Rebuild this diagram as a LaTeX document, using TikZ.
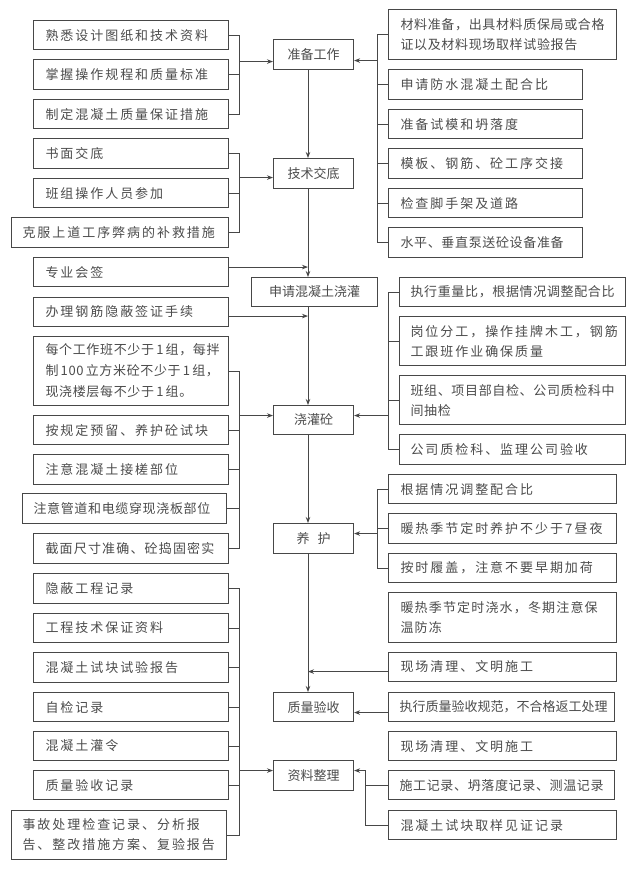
\documentclass[tikz,border=0pt]{standalone}
\usepackage{fontspec}
\usetikzlibrary{arrows.meta,calc}
\newfontfamily\cjkN[LetterSpace=15]{Noto Sans CJK SC}
\newfontfamily\cjkM[LetterSpace=9]{Noto Sans CJK SC}
\newfontfamily\cjkT[LetterSpace=5]{Noto Sans CJK SC}
\newfontfamily\cjkZ{Noto Sans CJK SC}
\newcommand\fsz{\fontsize{13}{20}\selectfont}
\tikzset{
  bx/.style={draw=black!72, line width=1.1pt, fill=white, inner xsep=12pt, inner ysep=1pt,
    align=left, text=black!70, font=\cjkN\fsz},
  ln/.style={draw=black!72, line width=1pt},
  arr/.style={ln, -{Stealth[length=6pt,width=4.5pt]}},
}
\newcommand\BX[7][]{%
  \pgfmathsetmacro\bw{#5-#3-24}\pgfmathsetmacro\bh{#6-#4}%
  \node[bx,#1,anchor=north west,text width=\bw pt,minimum height=\bh pt] (#2) at (#3,#4) {#7};}
\begin{document}
\begin{tikzpicture}[x=1pt,y=-1pt]
\useasboundingbox (0,0) rectangle (640,879);
\fill[white] (0,0) rectangle (640,879);
% left column
\BX{L1}{33}{20}{228}{49}{熟悉设计图纸和技术资料}
\BX{L2}{33}{59}{228}{89}{掌握操作规程和质量标准}
\BX{L3}{33}{99}{228}{128}{制定混凝土质量保证措施}
\BX{L4}{33}{138}{228}{168}{书面交底}
\BX{L5}{33}{178}{228}{207}{班组操作人员参加}
\BX[inner xsep=11pt]{L6}{11}{217}{230}{247}{克服上道工序弊病的补救措施}
\BX{L7}{33}{257}{228}{286}{专业会签}
\BX{L8}{33}{297}{228}{326}{办理钢筋隐蔽签证手续}
\BX[font=\cjkT\fontsize{13}{21}\selectfont]{L9}{33}{336}{228}{405}{每个工作班不少于\,1\,组，每拌\\制\,100\,立方米砼不少于\,1\,组，\\现浇楼层每不少于\,1\,组。}
\BX{L10}{33}{415}{228}{444}{按规定预留、养护砼试块}
\BX{L11}{33}{454}{228}{484}{注意混凝土接槎部位}
\BX[font=\cjkT\fsz,inner xsep=11pt]{L12}{22}{493}{228}{523}{注意管道和电缆穿现浇板部位}
\BX[font=\cjkM\fsz]{L13}{33}{533}{228}{563}{截面尺寸准确、砼捣固密实}
\BX{L14}{33}{573}{228}{603}{隐蔽工程记录}
\BX{L15}{33}{613}{228}{642}{工程技术保证资料}
\BX{L16}{33}{652}{228}{682}{混凝土试块试验报告}
\BX{L17}{33}{692}{228}{721}{自检记录}
\BX{L18}{33}{731}{228}{760}{混凝土灌令}
\BX{L19}{33}{770}{228}{799}{质量验收记录}
\BX[inner xsep=11pt]{L20}{11}{810}{228}{859}{事故处理检查记录、分析报\\告、整改措施方案、复验报告}
% centre column
\BX[align=center,font=\cjkZ\fsz]{C1}{273}{39}{353}{69}{准备工作}
\BX[align=center,font=\cjkZ\fsz]{C2}{273}{158}{353}{188}{技术交底}
\BX[align=center,font=\cjkZ\fsz]{C3}{251}{277}{377}{306}{申请混凝土浇灌}
\BX[align=center,font=\cjkZ\fsz]{C4}{273}{405}{353}{434}{浇灌砼}
\BX[align=center,font=\cjkZ\fsz]{C5}{273}{523}{353}{553}{养\hspace{8pt}护}
\BX[align=center,font=\cjkZ\fsz]{C6}{273}{692}{353}{721}{质量验收}
\BX[align=center,font=\cjkZ\fsz]{C7}{273}{760}{353}{790}{资料整理}
% right column
\BX[font=\cjkT\fsz]{R1}{388}{9}{616}{59}{材料准备，出具材料质保局或合格\\证以及材料现场取样试验报告}
\BX{R2}{388}{69}{582}{99}{申请防水混凝土配合比}
\BX{R3}{388}{109}{582}{138}{准备试模和坍落度}
\BX{R4}{388}{148}{582}{178}{模板、钢筋、砼工序交接}
\BX{R5}{388}{188}{582}{217}{检查脚手架及道路}
\BX[font=\cjkT\fsz]{R6}{388}{227}{582}{257}{水平、垂直泵送砼设备准备}
\BX[font=\cjkT\fsz,inner xsep=11pt]{R7}{399}{277}{627}{306}{执行重量比，根据情况调整配合比}
\BX[inner xsep=11pt]{R8}{399}{316}{627}{365}{岗位分工，操作挂牌木工，钢筋\\工跟班作业确保质量}
\BX[font=\cjkT\fsz,inner xsep=11pt]{R9}{399}{375}{627}{424}{班组、项目部自检、公司质检科中\\间抽检}
\BX[inner xsep=11pt]{R10}{399}{434}{627}{464}{公司质检科、监理公司验收}
\BX{R11}{388}{474}{616}{503}{根据情况调整配合比}
\BX{R12}{388}{513}{616}{543}{暖热季节定时养护不少于\,7\,昼夜}
\BX{R13}{388}{553}{616}{582}{按时履盖，注意不要早期加荷}
\BX[font=\cjkM\fsz]{R14}{388}{592}{616}{642}{暖热季节定时浇水，冬期注意保\\温防冻}
\BX{R15}{388}{652}{616}{681}{现场清理、文明施工}
\BX[font=\cjkZ\fsz,inner xsep=11pt]{R16}{388}{692}{616}{721}{执行质量验收规范，不合格返工处理}
\BX{R17}{388}{731}{616}{760}{现场清理、文明施工}
\BX[font=\cjkT\fsz,inner xsep=11pt]{R18}{388}{770}{616}{799}{施工记录、坍落度记录、测温记录}
\BX{R19}{388}{810}{616}{839}{混凝土试块取样见证记录}
% helper x positions
\coordinate (xL) at (239,0);
\coordinate (xR) at (377,0);
\coordinate (xR2) at (388,0);
\coordinate (xR3) at (365,0);
\coordinate (xM) at (308,0);
% 准备工作
\draw[ln] (L1.east) -| (xL |- L3.east) -- (L3.east);
\draw[ln] (L2.east) -- (xL |- L2.east);
\coordinate (a1) at ($(C1.west)+(0,7)$);
\draw[arr] (xL |- a1) -- (a1);
\draw[ln] (R1.west) -| (xR |- R6.west) -- (R6.west);
\foreach \r in {R2,R3,R4,R5} \draw[ln] (\r.west) -- (xR |- \r.west);
\coordinate (a2) at ($(C1.east)+(0,6)$);
\draw[arr] (xR |- a2) -- (a2);
% 技术交底
\draw[arr] (xM |- C1.south) -- (xM |- C2.north);
\draw[ln] (L4.east) -| (xL |- L6.east) -- (L6.east);
\draw[ln] (L5.east) -- (xL |- L5.east);
\coordinate (a3) at ($(C2.west)+(0,4)$);
\draw[arr] (xL |- a3) -- (a3);
% 申请混凝土浇灌
\draw[arr] (xM |- C2.south) -- (xM |- C3.north);
\coordinate (a4) at ($(L7.east)+(0,-5)$);
\draw[arr] (a4) -- (xM |- a4);
\coordinate (a5) at ($(L8.east)+(0,4)$);
\draw[arr] (a5) -- (xM |- a5);
% 浇灌砼
\draw[arr] (xM |- C3.south) -- (xM |- C4.north);
\draw[ln] (L9.east) -| (xL |- L13.east) -- (L13.east);
\foreach \l in {L10,L11,L12} \draw[ln] (\l.east) -- (xL |- \l.east);
\coordinate (a6) at ($(C4.west)+(0,-4.5)$);
\draw[arr] (xL |- a6) -- (a6);
\draw[ln] (R7.west) -| (xR2 |- R10.west) -- (R10.west);
\foreach \r in {R8,R9} \draw[ln] (\r.west) -- (xR2 |- \r.west);
\coordinate (a7) at ($(C4.east)+(0,-4.5)$);
\draw[arr] (xR2 |- a7) -- (a7);
% 养护
\draw[arr] (xM |- C4.south) -- (xM |- C5.north);
\draw[ln] (R11.west) -| (xR |- R13.west) -- (R13.west);
\draw[ln] (R12.west) -- (xR |- R12.west);
\coordinate (a8) at ($(C5.east)+(0,-5)$);
\draw[arr] (xR |- a8) -- (a8);
% 质量验收
\draw[arr] (xM |- C5.south) -- (xM |- C6.north);
\coordinate (a9) at ($(R15.west)+(0,4.5)$);
\draw[arr] (a9) -- (xM |- a9);
\coordinate (a10) at ($(C6.east)+(0,5.5)$);
\draw[arr] (R16.west |- a10) -- (a10);
% 资料整理
\draw[ln] (L14.east) -| (xL |- L20.east) -- (L20.east);
\foreach \l in {L15,L16,L17,L18,L19} \draw[ln] (\l.east) -- (xL |- \l.east);
\coordinate (a11) at ($(C7.west)+(0,-5)$);
\draw[arr] (xL |- a11) -- (a11);
\coordinate (a12) at ($(C7.east)+(0,-5)$);
\draw[arr] (R19.west) -| (xR3 |- a12) -- (a12);
\draw[ln] (R18.west) -- (xR3 |- R18.west);
\end{tikzpicture}
\end{document}
